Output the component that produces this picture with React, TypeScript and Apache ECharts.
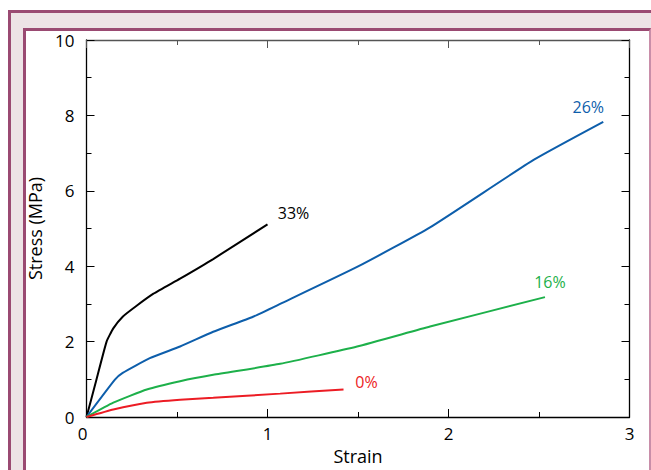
import React, { useEffect, useRef } from "react";
import * as echarts from "echarts";

const xTicks = [0, 1, 2, 3];
const yTicks = [0, 2, 4, 6, 8, 10];

const s33: number[][] = [[0, 0], [0.05, 0.9], [0.111, 2.0], [0.148, 2.35], [0.2, 2.66], [0.277, 2.95], [0.37, 3.27], [0.517, 3.67], [0.7, 4.19], [1.0, 5.11]];
const s26: number[][] = [[0, 0], [0.157, 0.99], [0.2, 1.17], [0.35, 1.56], [0.517, 1.87], [0.7, 2.26], [0.92, 2.66], [1.07, 3.0], [1.495, 3.98], [1.898, 5.03], [2.47, 6.82], [2.855, 7.83]];
const s16: number[][] = [[0, 0], [0.148, 0.38], [0.333, 0.73], [0.517, 0.95], [0.7, 1.12], [1.07, 1.41], [1.495, 1.87], [1.898, 2.4], [2.533, 3.18]];
const s0: number[][] = [[0, 0], [0.148, 0.2], [0.333, 0.38], [0.517, 0.46], [0.7, 0.51], [1.07, 0.62], [1.42, 0.73]];

const seriesNames = ["33%", "26%", "16%", "0%"];
const seriesData = [s33, s26, s16, s0];
const seriesColors = ["#000000", "#0d5eab", "#1db04a", "#ec1c24"];
const labelOffsets = [[26, -11], [-15, -15], [5, -15], [23, -7]];

const FONT = "'Open Sans', 'Noto Sans', sans-serif";

export default function App() {
  const ref = useRef<HTMLDivElement>(null);
  useEffect(() => {
    if (!ref.current) return;
    const chart = echarts.init(ref.current, undefined, { renderer: "svg" });
    const axisLine = { show: true, onZero: false, lineStyle: { color: "#000", width: 1.3 } };
    const hiddenAxis = {
      type: "value" as const,
      axisLabel: { show: false },
      splitLine: { show: false },
    };
    chart.setOption({
      animation: false,
      backgroundColor: "transparent",
      textStyle: { fontFamily: FONT },
      grid: { left: 86.5, right: 21.5, top: 40, bottom: 50.7, containLabel: false },
      xAxis: [
        {
          type: "value",
          min: 0,
          max: 3,
          interval: 1,
          name: "Strain",
          nameLocation: "middle",
          nameGap: 30,
          nameTextStyle: { color: "#000", fontSize: 18, fontFamily: FONT },
          axisLine,
          axisTick: { show: true, inside: false, length: -8, lineStyle: { color: "#000" } },
          minorTick: { show: true, splitNumber: 2, length: -5, lineStyle: { color: "#000" } },
          axisLabel: {
            color: "#000",
            fontSize: 17,
            fontFamily: FONT,
            margin: 8,
            formatter: (v: number) => (xTicks.includes(v) ? (v === 0 ? "{z|0}" : String(v)) : ""),
            rich: { z: { fontSize: 17, fontFamily: FONT, color: "#000", padding: [0, 8, 0, 0] } },
          },
          splitLine: { show: false },
        },
        {
          ...hiddenAxis,
          position: "top",
          min: 0,
          max: 3,
          interval: 1,
          axisLine: { show: true, onZero: false, lineStyle: { color: "#555", width: 1.3 } },
          axisTick: { show: true, inside: true, length: 8, lineStyle: { color: "#555" } },
          minorTick: { show: true, splitNumber: 2, length: 5, lineStyle: { color: "#555" } },
        },
      ],
      yAxis: [
        {
          type: "value",
          min: 0,
          max: 10,
          interval: 2,
          name: "Stress (MPa)",
          nameLocation: "middle",
          nameGap: 40,
          nameTextStyle: { color: "#000", fontSize: 18, fontFamily: FONT },
          axisLine,
          axisTick: { show: true, inside: true, length: 8, lineStyle: { color: "#000" } },
          minorTick: { show: true, splitNumber: 2, length: 5, lineStyle: { color: "#000" } },
          axisLabel: {
            color: "#000",
            fontSize: 17,
            fontFamily: FONT,
            margin: 12,
            formatter: (v: number) => (yTicks.includes(v) ? String(v) : ""),
          },
          splitLine: { show: false },
        },
        {
          ...hiddenAxis,
          position: "right",
          min: 0,
          max: 10,
          interval: 2,
          axisLine,
          axisTick: { show: true, inside: true, length: 8, lineStyle: { color: "#000" } },
          minorTick: { show: true, splitNumber: 2, length: 5, lineStyle: { color: "#000" } },
        },
      ],
      series: seriesData.map((d, i) => ({
        type: "line",
        name: seriesNames[i],
        data: d,
        xAxisIndex: 0,
        yAxisIndex: 0,
        showSymbol: false,
        symbol: "none",
        smooth: 0.15,
        lineStyle: { color: seriesColors[i], width: 2 },
        endLabel: {
          show: true,
          formatter: seriesNames[i],
          color: seriesColors[i],
          fontSize: 16,
          fontFamily: FONT,
          distance: 0,
          align: "center",
          verticalAlign: "middle",
          offset: labelOffsets[i],
        },
      })),
    });
    return () => chart.dispose();
  }, []);

  return (
    <div style={{ position: "fixed", left: 0, top: 0, width: 651, height: 470, overflow: "hidden", background: "#fff" }}>
      <div
        style={{
          position: "absolute",
          left: 8,
          top: 10,
          width: 700,
          height: 500,
          boxSizing: "border-box",
          borderLeft: "3px solid #9a4a72",
          borderTop: "3px solid #9a4a72",
          background: "#ede3e6",
        }}
      />
      <div
        style={{
          position: "absolute",
          left: 23,
          top: 28,
          width: 628,
          height: 500,
          boxSizing: "border-box",
          borderLeft: "3px solid #9a4a72",
          borderTop: "3px solid #9a4a72",
          borderRight: "2px solid #c98ea9",
          background: "#fff",
        }}
      />
      <div ref={ref} style={{ position: "absolute", left: 0, top: 0, width: 651, height: 470 }} />
    </div>
  );
}
